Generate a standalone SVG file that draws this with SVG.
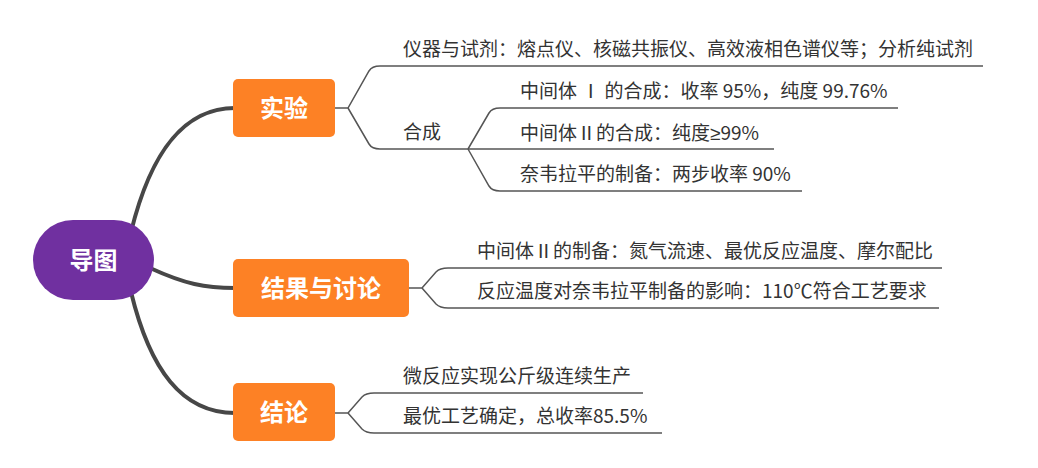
<svg xmlns="http://www.w3.org/2000/svg" width="1038" height="468" viewBox="0 0 1038 468">
<style>
.main{stroke:#474747;stroke-width:4;fill:none;stroke-linecap:round}
.sub{stroke:#555;stroke-width:1.5;fill:none}
.t{font-family:"Noto Sans CJK SC","Microsoft YaHei",sans-serif;font-size:19px;fill:#333}
.lat{font-family:"Noto Sans",sans-serif}
.nl{font-family:"Noto Sans CJK SC","Microsoft YaHei",sans-serif;font-size:24px;font-weight:bold;fill:#fff;text-anchor:middle}
.box{fill:#FD8125}
</style>
<rect width="1038" height="468" fill="#fff"/>
<g id="connectors">
<path class="main" d="M131,232 C150,155 182,108 235,108"/>
<path class="main" d="M150,268 C185,284 205,288 235,288"/>
<path class="main" d="M131,292 C150,370 182,413 235,413"/>
<path class="sub" d="M335,108 H348 L369,71 Q372,66 380,66 H983"/>
<path class="sub" d="M348,108 L369,144 Q372,149 380,149 H468"/>
<path class="sub" d="M468,149 L489,113 Q492,108 500,108 H898"/>
<path class="sub" d="M468,149 H774"/>
<path class="sub" d="M468,149 L489,186 Q492,191 500,191 H802"/>
<path class="sub" d="M409,288 H422 L436,272 Q440,268 448,268 H942"/>
<path class="sub" d="M422,288 L436,304 Q440,308 448,308 H939"/>
<path class="sub" d="M335,413 H348 L362,397 Q366,393 374,393 H643"/>
<path class="sub" d="M348,413 L362,429 Q366,433 374,433 H662"/>
</g>
<g id="root">
<rect x="33" y="220" width="121" height="80" rx="40" fill="#7030A0"/>
<text class="nl" x="93.5" y="268.5">导图</text>
</g>
<g id="n-shiyan">
<rect class="box" x="233" y="79" width="102" height="58" rx="5"/>
<text class="nl" x="284" y="116.5">实验</text>
</g>
<g id="n-jieguo">
<rect class="box" x="233" y="259" width="176" height="58" rx="5"/>
<text class="nl" x="321" y="296.5">结果与讨论</text>
</g>
<g id="n-jielun">
<rect class="box" x="233" y="383" width="102" height="58" rx="5"/>
<text class="nl" x="284" y="420.5">结论</text>
</g>
<g id="c-yiqi"><text class="t" x="403" y="56">仪器与试剂：熔点仪、核磁共振仪、高效液相色谱仪等；分析纯试剂</text></g>
<g id="c-hecheng"><text class="t" x="403" y="139">合成</text></g>
<g id="c-zj1"><text class="t" x="520" y="98">中间体 Ⅰ 的合成：收率 95%，纯度 99.76%</text></g>
<g id="c-zj2"><text class="t" x="520" y="140">中间体Ⅱ的合成：纯度<tspan class="lat">≥</tspan>99%</text></g>
<g id="c-nwlp"><text class="t" x="520" y="181">奈韦拉平的制备：两步收率 90%</text></g>
<g id="c-zj2zb"><text class="t" x="477" y="258">中间体Ⅱ的制备：氮气流速、最优反应温度、摩尔配比</text></g>
<g id="c-fywd"><text class="t" x="477" y="298">反应温度对奈韦拉平制备的影响：110℃符合工艺要求</text></g>
<g id="c-wfy"><text class="t" x="403" y="383">微反应实现公斤级连续生产</text></g>
<g id="c-zygy"><text class="t" x="403" y="423">最优工艺确定，总收率85.5%</text></g>
</svg>
